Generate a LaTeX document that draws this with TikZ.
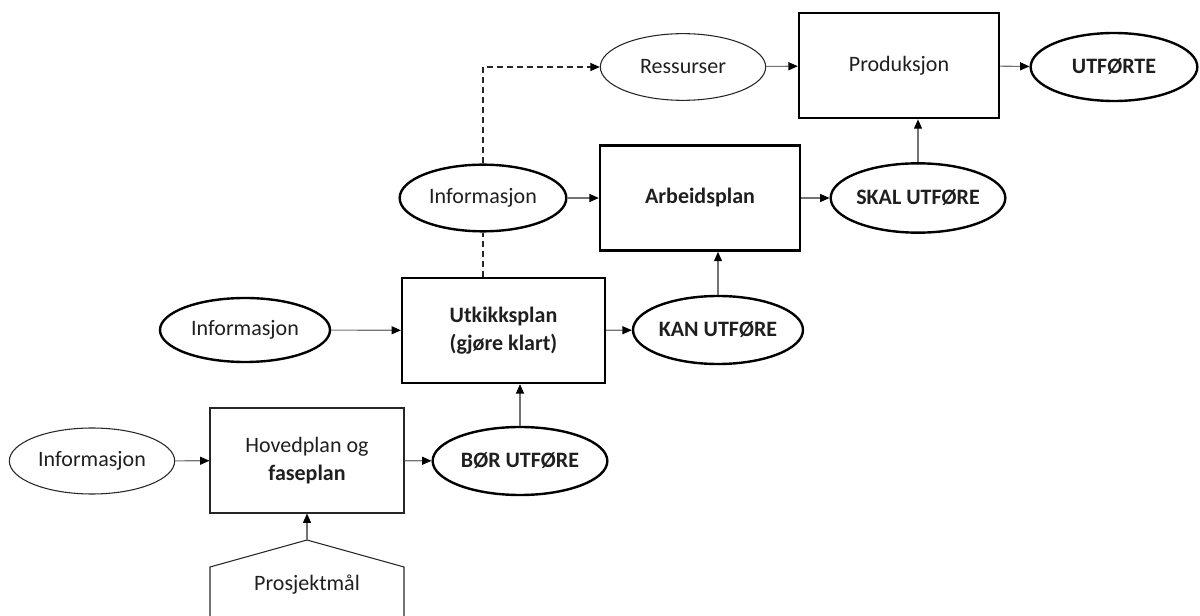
\documentclass[tikz,border=0pt]{standalone}
\usepackage{fontspec}
\setmainfont{Carlito}
\usetikzlibrary{arrows.meta,shapes.geometric}
\begin{document}
\begin{tikzpicture}[x=0.75pt,y=-0.75pt,
  every node/.style={font=\fontsize{16.5}{20.5}\selectfont, text=black!88, align=center, inner sep=0pt},
  ethin/.style={ellipse, draw=black!85, line width=0.8pt},
  ethick/.style={ellipse, draw=black, line width=1.8pt},
  bthin/.style={rectangle, draw=black!85, line width=0.8pt},
  bthick/.style={rectangle, draw=black, line width=1.8pt},
  conn/.style={draw=black!55, line width=0.8pt, -{Triangle[length=7pt,width=6pt,color=black]}},
  dconn/.style={draw=black!85, line width=0.8pt, dash pattern=on 4.5pt off 3pt},
]
\useasboundingbox (0,0) rectangle (1200,616);

% bottom row: main plan
\node[ethin, minimum width=124pt, minimum height=49.5pt] (info1) at (92,461) {Informasjon};
\node[bthin, minimum width=145.5pt, minimum height=78.75pt] (hoved) at (307,460.5) {Hovedplan og\\\textbf{faseplan}};
\node[ethick, minimum width=131pt, minimum height=51pt] (bor) at (520,461) {\textbf{BØR UTFØRE}};

% project goal (pentagon running off the lower edge)
\draw[draw=black!85, line width=0.8pt] (210,650) -- (210,567) -- (307,540) -- (404,567) -- (404,650);
\coordinate (pmtop) at (307,540);
\node (pm) at (307,585) {Prosjektmål};

% second row: look-ahead plan
\node[ethick, minimum width=127.5pt, minimum height=48pt] (info2) at (245,330) {Informasjon};
\node[bthick, minimum width=152pt, minimum height=78.75pt] (utk) at (503.5,330.5) {\textbf{Utkikksplan}\\\textbf{(gjøre klart)}};
\node[ethick, minimum width=127.5pt, minimum height=51pt] (kan) at (718,330) {\textbf{KAN UTFØRE}};

% third row: work plan
\node[ethick, minimum width=125pt, minimum height=50pt] (info3) at (483,198) {Informasjon};
\node[bthick, minimum width=150pt, minimum height=79pt] (arb) at (700,198) {\textbf{Arbeidsplan}};
\node[ethick, minimum width=130pt, minimum height=52pt] (skal) at (918,198) {\textbf{SKAL UTFØRE}};

% top row: production
\node[ethin, minimum width=124pt, minimum height=50pt] (res) at (683,67) {Ressurser};
\node[bthick, minimum width=150pt, minimum height=79pt] (prod) at (899,65.5) {Produksjon};
\node[ethick, minimum width=125pt, minimum height=51pt] (utf) at (1114,67) {\textbf{UTFØRTE}};

% connectors
\draw[conn] (info1) -- (hoved);
\draw[conn] (hoved) -- (bor);
\draw[conn] (pmtop) -- (pmtop |- hoved.south);
\draw[conn] (bor.north) -- (bor.north |- utk.south);
\draw[conn] (info2) -- (utk);
\draw[conn] (utk) -- (kan);
\draw[conn] (kan.north) -- (kan.north |- arb.south);
\draw[conn] (info3) -- (arb);
\draw[conn] (arb) -- (skal);
\draw[conn] (skal.north) -- (skal.north |- prod.south);
\draw[conn] (res) -- (prod);
\draw[conn] (prod) -- (utf);

% dashed information flow
\draw[dconn] (info3.south |- utk.north) -- (info3.south);
\draw[dconn, -{Triangle[length=7pt,width=6pt,color=black]}] (info3.north) -- (info3.north |- res.west) -- (res.west);
\end{tikzpicture}
\end{document}
